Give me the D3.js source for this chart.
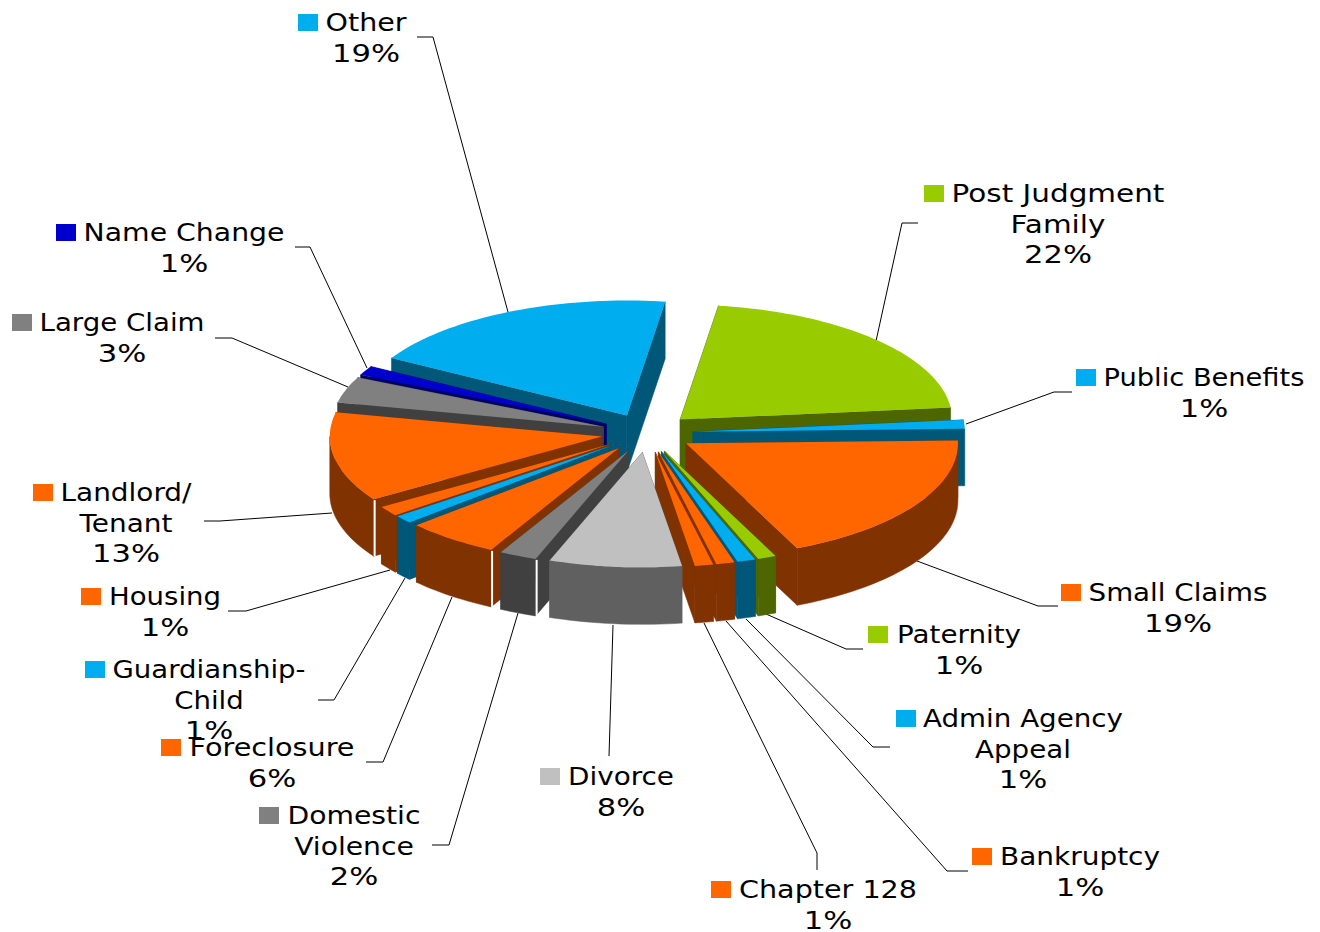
<!DOCTYPE html>
<html><head><meta charset="utf-8">
<style>html,body{margin:0;padding:0;background:#fff;overflow:hidden}svg{display:block}text{font-family:"DejaVu Sans",Verdana,sans-serif;font-size:25.5px;fill:#000}</style>
<script src="https://cdn.jsdelivr.net/npm/d3@7/dist/d3.min.js"></script>
</head><body><svg id="c" width="1320" height="932"></svg>
<script>
const categories=["Post Judgment Family","Public Benefits","Small Claims","Paternity","Admin Agency Appeal","Bankruptcy","Chapter 128","Divorce","Domestic Violence","Foreclosure","Guardianship-Child","Housing","Landlord/Tenant","Large Claim","Name Change","Other"];
const sliceValues=[21.2,1.25,18.8,1.1,1.1,1.1,1.1,7.9,2.25,5.6,1.1,1.4,12.6,3.7,1.3,19.0];
const percentLabels=["22%","1%","19%","1%","1%","1%","1%","8%","2%","6%","1%","1%","13%","3%","1%","19%"];
const labelLines=[["Post Judgment","Family"],["Public Benefits"],["Small Claims"],["Paternity"],["Admin Agency","Appeal"],["Bankruptcy"],["Chapter 128"],["Divorce"],["Domestic","Violence"],["Foreclosure"],["Guardianship-","Child"],["Housing"],["Landlord/","Tenant"],["Large Claim"],["Name Change"],["Other"]];
const topColors=["#99CC00","#00ADEF","#FF6600","#99CC00","#00ADEF","#FF6600","#FF6600","#C0C0C0","#808080","#FF6600","#00ADEF","#FF6600","#FF6600","#808080","#0000CC","#00ADEF"];
const sideColors=["#4D6600","#005778","#803300","#4D6600","#005778","#803300","#803300","#606060","#404040","#803300","#005778","#803300","#803300","#404040","#000066","#005778"];
// label placement: text centre x, first baseline y, key x, first-line width
const labelX=[1058,1204,1178,959,1023,1080,828,621,354,272,209,165,126,122,184,366];
const labelY=[202,386,601,643,727,865,898,785,824,756,678,605,501,331,241,31];
const keyX=[924,1076,1061,868,896,972,711,540,259,161,85,81,33,12,56,298];
const labelW=[213,201,179,124,200,160,178,106,133,165,193,112,131,165,201,81];
const leaders=[[[918,223],[902,223],[876,341]],[[1072,392],[1054,392],[966,424]],[[1058,606],[1038,606],[917,561]],[[863,649],[846,649],[766,614]],[[890,747],[873,747],[746,619]],[[968,871],[947,871],[726,621]],[[817,870],[817,853],[704,623]],[[609,756],[613,625]],[[432,845],[449,845],[518,613]],[[366,762],[383,762],[452,597]],[[318,700],[334,700],[405,578]],[[228,611],[246,611],[390,570]],[[204,521],[220,521],[332,513]],[[215,338],[232,338],[348,387]],[[295,247],[310,247],[367,368]],[[417,37],[433,37],[508,312]]];
const whiteEdge=["Landlord/Tenant","Foreclosure","Domestic Violence"];

const cx=647,cy=433,rx=272,ry=115,depth=57,explode=46;
const svg=d3.select("#c");
const deg=Math.PI/180;
const start=8.1*deg;
const pie=d3.pie().sort(null).startAngle(start).endAngle(start+2*Math.PI);
const arcs=pie(sliceValues).map((a,i)=>({...a,i,mid:(a.startAngle+a.endAngle)/2}));
const pt=(o,a,r)=>[o[0]+r*rx*Math.sin(a),o[1]-r*ry*Math.cos(a)];
const down=(p)=>[p[0],p[1]+depth];
const line=d3.line();
function arcPts(o,a0,a1){const n=Math.max(2,Math.ceil((a1-a0)/(1.5*deg)));
  return d3.range(n+1).map(k=>pt(o,a0+(a1-a0)*k/n,1));}

svg.append("g").selectAll("path").data(leaders).join("path")
 .attr("d",d=>line(d)).attr("fill","none").attr("stroke","#000").attr("stroke-width",1);

const order=arcs.slice().sort((a,b)=>(-Math.cos(a.mid))-(-Math.cos(b.mid)));
const g=svg.append("g");
order.forEach(d=>{
  const o=[cx+explode*Math.sin(d.mid),cy-explode*(ry/rx)*Math.cos(d.mid)];
  const top=sideColors[d.i],c=topColors[d.i];
  const sg=g.append("g").attr("class","slice");
  const p0=pt(o,d.startAngle,1),p1=pt(o,d.endAngle,1);
  const walls=[p0,p1].sort((a,b)=>a[1]-b[1]);
  walls.forEach(p=>sg.append("path").attr("d",line([o,p,down(p),down(o)])+"Z").attr("fill",top).attr("stroke",top).attr("stroke-width",.5));
  const a0=Math.max(d.startAngle,Math.PI/2),a1=Math.min(d.endAngle,1.5*Math.PI);
  if(a1>a0){const pts=arcPts(o,a0,a1);
    sg.append("path").attr("d",line(pts.concat(pts.slice().reverse().map(down)))+"Z").attr("fill",top).attr("stroke",top).attr("stroke-width",.5);}
  sg.append("path").attr("d",line([o].concat(arcPts(o,d.startAngle,d.endAngle)))+"Z").attr("fill",c);
  if(whiteEdge.includes(categories[d.i])){
    sg.append("path").attr("d",line([[p0[0]+1,p0[1]+1],[p0[0]+1,p0[1]+depth]])).attr("stroke","#fff").attr("stroke-width",2);
  }
});

const lg=svg.append("g");
categories.forEach((name,i)=>{
  const lines=labelLines[i];
  lg.append("rect").attr("x",keyX[i]).attr("y",labelY[i]-17).attr("width",20).attr("height",17).attr("fill",topColors[i]);
  const ts=lines.map((t,k)=>lg.append("text").attr("text-anchor","middle").text(t)
     .attr("data-y",labelY[i]+k*30.5));
  const sx=labelW[i]/ts[0].node().getComputedTextLength();
  ts.forEach(s=>s.attr("transform",`translate(${labelX[i]},${s.attr("data-y")}) scale(${sx},1)`));
  lg.append("text").attr("text-anchor","middle").text(percentLabels[i])
    .attr("transform",`translate(${labelX[i]},${labelY[i]+lines.length*30.5}) scale(1.2,1)`);
});
</script></body></html>
